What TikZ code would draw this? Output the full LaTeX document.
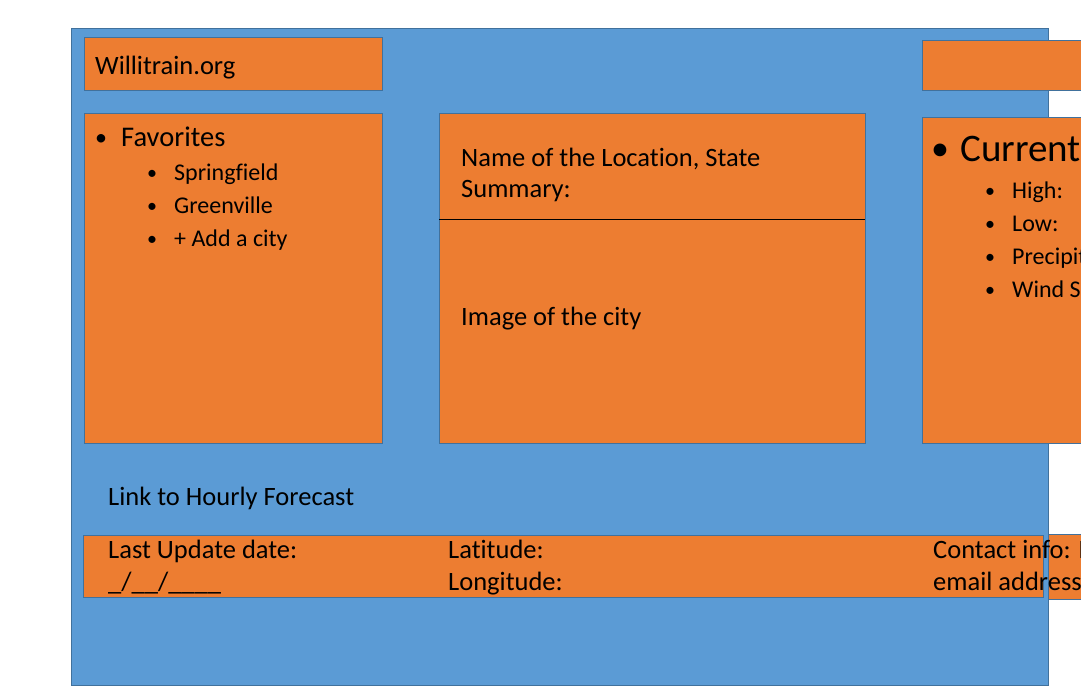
\documentclass[tikz,border=0pt]{standalone}
\usepackage{fontspec}
\setmainfont{Carlito}[Ligatures=NoCommon]
\usepackage{tikz}
\usetikzlibrary{positioning}
\definecolor{pageblue}{HTML}{5B9BD5}
\definecolor{boxorange}{HTML}{ED7D31}
\definecolor{edgeblue}{HTML}{41719C}

\begin{document}
\begin{tikzpicture}[x=1pt,y=-1pt,
						framebox/.style={rectangle, draw=edgeblue, line width=0.8pt, fill=pageblue, inner sep=0pt},
						panel/.style={rectangle, draw=edgeblue, line width=0.8pt, fill=boxorange, inner sep=0pt},
						txt/.style={anchor=base west, inner sep=0pt, font=\fontsize{26.5}{31}\selectfont},
						itemtxt/.style={anchor=base west, inner sep=0pt, font=\fontsize{24}{29}\selectfont},
						dot/.style={anchor=base, inner sep=0pt, font=\fontsize{20}{24}\selectfont},
						]
						\useasboundingbox (0,0) rectangle (1081,699);
						\clip (0,0) rectangle (1081,699);
						%Boxes
						\node[framebox, minimum width=977, minimum height=657]	(page)		at	(559.5,356.5)	{};
						\node[panel, minimum width=298, minimum height=53]	(titlebox)	at	(233,63.5)	{};
						\node[panel, minimum width=200, minimum height=50]	(topright)	at	(1022,65)	{};
						\node[panel, minimum width=298, minimum height=330]	(favbox)	at	(233,278)	{};
						\node[panel, minimum width=426, minimum height=330]	(citybox)	at	(652,278)	{};
						\node[panel, minimum width=200, minimum height=326]	(currentbox)	at	(1022,280)	{};
						\node[panel, minimum width=960, minimum height=62]	(footer)	at	(563,566)	{};
						\node[panel, minimum width=52, minimum height=65]	(footer2)	at	(1074,566.5)	{};

						%Lines
						\coordinate (divL) at (439,219);
						\coordinate (divR) at (865,219);
						\draw[black, line width=0.8pt] (divL) -- (divR);

						%Texts
						\node[txt]	(site)		at	(95,74)		{Willitrain.org};
						\node[dot, font=\fontsize{24}{29}\selectfont]	(favdot)	at	(101,145)	{\textbullet};
						\node[txt, font=\fontsize{28.5}{33}\selectfont]	(fav)		at	(121,146)	{Favorites};
						\node[dot]	(dot1)		at	(152,179)	{\textbullet};
						\node[itemtxt]	(city1)		at	(174,180)	{Springfield};
						\node[dot]	(dot2)		at	(152,212)	{\textbullet};
						\node[itemtxt]	(city2)		at	(174,213)	{Greenville};
						\node[dot]	(dot3)		at	(152,245)	{\textbullet};
						\node[itemtxt]	(city3)		at	(174,246)	{+ Add a city};

						\node[txt]	(locname)	at	(461,166)	{Name of the Location, State};
						\node[txt]	(summary)	at	(461,197)	{Summary:};
						\node[txt]	(cityimg)	at	(461,325)	{Image of the city};

						\node[dot, font=\fontsize{36}{42}\selectfont]	(curdot)	at	(940,160)	{\textbullet};
						\node[txt, font=\fontsize{39}{46}\selectfont]	(current)	at	(960,161)	{Current};
						\node[dot]	(dot4)		at	(990,197)	{\textbullet};
						\node[itemtxt]	(high)		at	(1012,198)	{High:};
						\node[dot]	(dot5)		at	(990,230)	{\textbullet};
						\node[itemtxt]	(low)		at	(1012,231)	{Low:};
						\node[dot]	(dot6)		at	(990,263)	{\textbullet};
						\node[itemtxt]	(precip)	at	(1012,264)	{Precipitation:};
						\node[dot]	(dot7)		at	(990,296)	{\textbullet};
						\node[itemtxt]	(wind)		at	(1012,297)	{Wind Speed:};

						\node[txt]	(hourly)	at	(108,505)	{Link to Hourly Forecast};
						\node[txt]	(update)	at	(108,558)	{Last Update date:};
						\node[txt]	(datefmt)	at	(108,590)	{\_/\_\_/\_\_\_\_};
						\node[txt]	(lat)		at	(448,558)	{Latitude:};
						\node[txt]	(lon)		at	(448,590)	{Longitude:};
						\node[txt]	(contact)	at	(933,558)	{Contact info: Phone};
						\node[txt]	(email)		at	(933,590)	{email address};
					\end{tikzpicture}
\end{document}
